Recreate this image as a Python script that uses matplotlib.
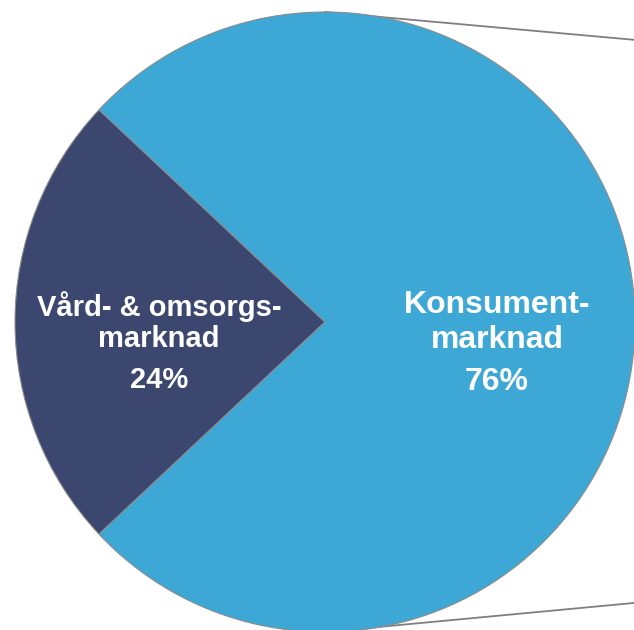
import matplotlib.pyplot as plt

plt.rcParams['font.family'] = ['Liberation Sans', 'DejaVu Sans']

# data
segments = ['Vård- & omsorgs-\nmarknad', 'Konsument-\nmarknad']
shares = [24, 76]
colors = ['#3c4770', '#3da7d5']

fig = plt.figure(figsize=(6.34, 6.30), dpi=100)
ax = fig.add_axes([0, 0, 1, 1])

wedges, _ = ax.pie(shares, colors=colors, startangle=180 - shares[0] * 1.8,
                   counterclock=True, radius=1.0,
                   wedgeprops=dict(edgecolor='#8c8c8c', linewidth=0.8))

# connector lines towards the (cut off) secondary chart
ax.plot([0, 1.6], [1.0, 1.0 - 0.09 * 1.6], color='#7f7f7f', lw=1.3, zorder=0)
ax.plot([0, 1.6], [-1.0, -1.0 + 0.094 * 1.6], color='#7f7f7f', lw=1.3, zorder=0)

label_pos = [(-0.535, 0.001), (0.555, -0.002)]
pct_pos = [(-0.535, -0.187), (0.555, -0.194)]
sizes = [21, 23]
spacing = [1.13, 1.25]
for name, val, (lx, ly), (px, py), fs, ls in zip(segments, shares, label_pos,
                                                  pct_pos, sizes, spacing):
    ax.text(lx, ly, name, ha='center', va='center', color='white',
            fontsize=fs, fontweight='bold', linespacing=ls)
    ax.text(px, py, f'{val}%', ha='center', va='center', color='white',
            fontsize=fs, fontweight='bold')

ax.set_xlim(-325 / 310, 309 / 310)
ax.set_ylim(-308 / 310, 322 / 310)
ax.set_aspect('auto')
ax.axis('off')

fig.savefig('out.png', dpi=100)
